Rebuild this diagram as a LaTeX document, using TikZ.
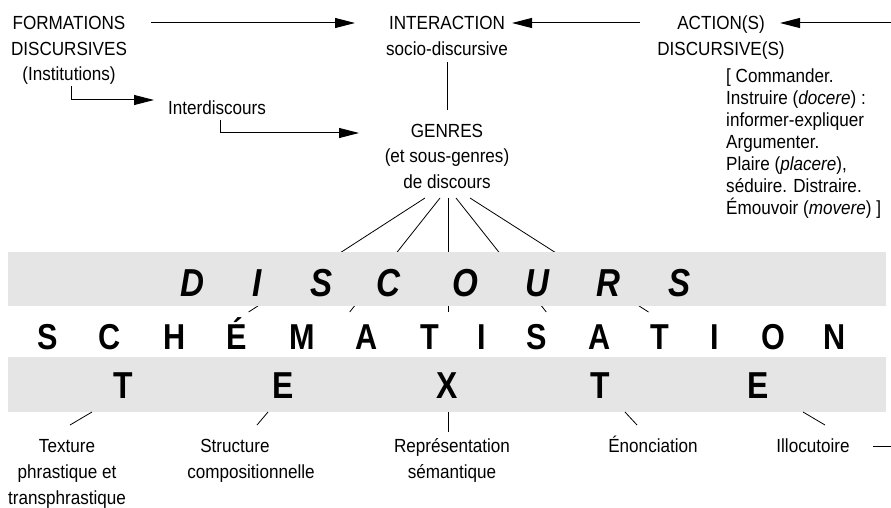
\documentclass[tikz,border=0pt]{standalone}
\usepackage{fontspec}
\setmainfont[FakeStretch=0.9]{Liberation Sans}
\newfontfamily\bigfont[FakeStretch=0.85]{Liberation Sans}
\usetikzlibrary{arrows.meta}
\definecolor{bargray}{RGB}{229,229,229}
\begin{document}
\begin{tikzpicture}[x=1pt,y=-1pt,
  lbl/.style={inner sep=0pt, font=\fontsize{19}{25.6}\selectfont, align=center, anchor=base},
  listtxt/.style={inner sep=0pt, font=\fontsize{19}{22}\selectfont, align=left, anchor=base west},
  arr/.style={-{Triangle[length=20pt,width=10pt]}, line width=1pt},
  ln/.style={line width=0.8pt},
  bar/.style={fill=bargray, draw=none},
  disc/.style={inner sep=0pt, anchor=base, font=\bigfont\fontsize{39}{39}\selectfont\bfseries\itshape},
  schem/.style={inner sep=0pt, anchor=base, font=\bigfont\fontsize{36}{36}\selectfont\bfseries},
  texte/.style={inner sep=0pt, anchor=base, font=\bigfont\fontsize{37.5}{37.5}\selectfont\bfseries}
]
\useasboundingbox (0,0) rectangle (891,508);

% top texts (base anchor = baseline of the last line)
\node[lbl] (form) at (69,80.7) {FORMATIONS\\DISCURSIVES\\(Institutions)};
\node[lbl] (inter) at (447,55.1) {INTERACTION\\socio-discursive};
\node[lbl] (action) at (721,55.1) {ACTION(S)\\DISCURSIVE(S)};
\node[listtxt] (list) at (726,214.7) {[ Commander.\\Instruire (\textit{docere}) :\\informer-expliquer\\Argumenter.\\Plaire (\textit{placere}),\\séduire. Distraire.\\Émouvoir (\textit{movere}) ]};
\node[lbl] (interd) at (217,114.5) {Interdiscours};
\node[lbl] (genres) at (447,188.5) {GENRES\\(et sous-genres)\\de discours};

% arrows
\coordinate (f1) at (151,23);
\coordinate (f2) at (355,23);
\coordinate (a1) at (640,23);
\coordinate (a2) at (512,23);
\coordinate (r1) at (891,23);
\coordinate (r2) at (780,23);
\coordinate (i1) at (71,86);
\coordinate (i2) at (154,100);
\coordinate (d1) at (220,120);
\coordinate (d2) at (359,133);
\coordinate (g1) at (447,62);
\coordinate (g2) at (447,110);
\draw[arr] (f1) -- (f2);
\draw[arr] (a1) -- (a2);
\draw[arr] (r1) -- (r2);
\draw[arr] (i1) |- (i2);
\draw[arr] (d1) |- (d2);
\draw[ln] (g1) -- (g2);

% fan lines from genres
\coordinate (t1) at (425,198); \coordinate (b1) at (248.6,312);
\coordinate (t2) at (440,198); \coordinate (b2) at (349.7,312);
\coordinate (t3) at (448,198); \coordinate (b3) at (448,312);
\coordinate (t4) at (456,198); \coordinate (b4) at (546.3,312);
\coordinate (t5) at (470,198); \coordinate (b5) at (648.5,312);
\foreach \i in {1,...,5} \draw[ln] (t\i) -- (b\i);

% bars
\fill[bar] (8,252) rectangle (886,306);
\fill[bar] (8,357) rectangle (886,412);

% DISCOURS
\foreach \l/\x [count=\n] in {D/192,I/257,S/322,C/388,O/465,U/537,R/608,S/680}
  \node[disc] (dl\n) at (\x,296) {\l};
% SCHEMATISATION
\foreach \l/\x [count=\n] in {S/48,C/110,H/175,É/237,M/302,A/367,T/430,I/482,S/537,A/600,T/660,I/715,O/773,N/835}
  \node[schem] (sl\n) at (\x,349) {\l};
% TEXTE
\foreach \l/\x [count=\n] in {T/123,E/283,X/447,T/600,E/758}
  \node[texte] (tl\n) at (\x,398) {\l};

% lower lines
\coordinate (u1) at (92,412);  \coordinate (v1) at (70,425);
\coordinate (u2) at (268,412); \coordinate (v2) at (257,425);
\coordinate (u3) at (448,412); \coordinate (v3) at (448,432);
\coordinate (u4) at (625,412); \coordinate (v4) at (637,425);
\coordinate (u5) at (803,412); \coordinate (v5) at (825,425);
\foreach \i in {1,...,5} \draw[ln] (u\i) -- (v\i);

% bottom labels
\node[lbl] (texture) at (67,504) {Texture\\phrastique et\\transphrastique};
\node[lbl] (struct) at (235,452.7) {Structure};
\node[lbl] (compo) at (251,478.4) {compositionnelle};
\node[lbl] (repr) at (452,478.4) {Représentation\\sémantique};
\node[lbl] (enon) at (653,452.7) {Énonciation};
\node[lbl] (illoc) at (813,452.7) {Illocutoire};
\coordinate (e1) at (873,446);
\coordinate (e2) at (891,446);
\draw[ln] (e1) -- (e2);
\end{tikzpicture}
\end{document}
